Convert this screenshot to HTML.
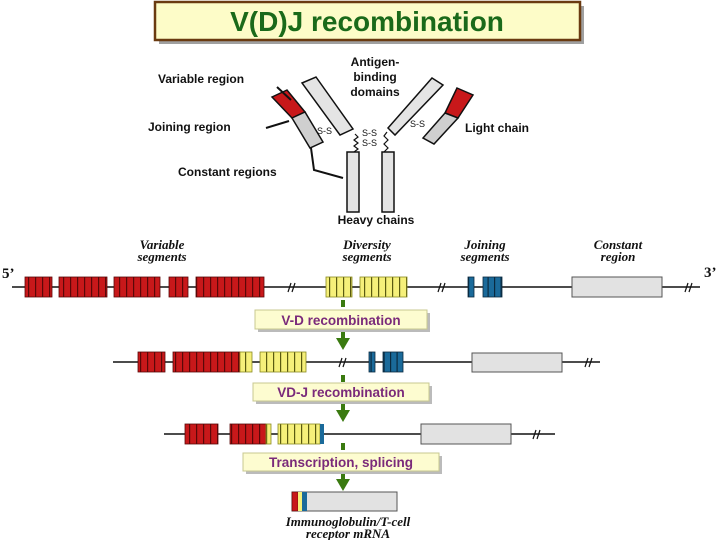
<!DOCTYPE html>
<html><head><meta charset="utf-8"><style>
html,body{margin:0;padding:0;background:#fff;}
svg{display:block;}
.lb{font-family:"Liberation Sans",sans-serif;font-weight:bold;font-size:12px;fill:#111;}
.sg{font-family:"Liberation Serif",serif;font-weight:bold;font-style:italic;font-size:13px;fill:#111;}
.bx{font-family:"Liberation Sans",sans-serif;font-weight:bold;font-size:13.5px;fill:#7a2a7a;}
</style></head><body>
<svg width="720" height="540" viewBox="0 0 720 540" xmlns="http://www.w3.org/2000/svg">
<defs>
<pattern id="red" patternUnits="userSpaceOnUse" width="7" height="40" x="0" y="0">
<rect width="7" height="40" fill="#c8181a"/><rect width="1.2" height="40" fill="#5a0808"/>
</pattern>
<pattern id="yel" patternUnits="userSpaceOnUse" width="7" height="40" x="0" y="0">
<rect width="7" height="40" fill="#f6f07a"/><rect width="1.2" height="40" fill="#5a5a10"/>
</pattern>
<pattern id="blu" patternUnits="userSpaceOnUse" width="6.5" height="40" x="0" y="0">
<rect width="6.5" height="40" fill="#1a6a9a"/><rect width="1.2" height="40" fill="#0a2a40"/>
</pattern>
</defs>

<!-- Title -->
<rect x="159" y="6" width="425" height="38" fill="#a0a0a0"/>
<rect x="155" y="2" width="425" height="38" fill="#fdfcc8" stroke="#6a3a10" stroke-width="2.5"/>
<text x="367" y="31" text-anchor="middle" font-family="Liberation Sans,sans-serif" font-weight="bold" font-size="28" fill="#1a6a1a">V(D)J recombination</text>

<!-- Antibody -->
<g stroke="#111" stroke-width="1.5">
<polygon points="302,83 316,77 353,129 340,135" fill="#e4e4e4"/>
<polygon points="432,78 443,85 395,135 388,128" fill="#e4e4e4"/>
<polygon points="272,97 287,90 305,112 292,118" fill="#c8181a"/>
<polygon points="292,118 305,112 323,142 310,148" fill="#cfcfcf"/>
<polygon points="457,88 473,95 458,118 445,113" fill="#c8181a"/>
<polygon points="445,113 458,118 434,144 423,138" fill="#cfcfcf"/>
<rect x="347" y="152" width="12" height="60" fill="#e4e4e4"/>
<rect x="382" y="152" width="12" height="60" fill="#e4e4e4"/>
</g>
<g stroke="#111" stroke-width="1.2" fill="none">
<polyline points="355,134 358,137 354,140 358,143 354,146 358,149 354,152"/>
<polyline points="387,132 384,136 388,140 384,144 388,148 384,152"/>
<line x1="277" y1="87" x2="291" y2="100" stroke-width="2"/>
<line x1="266" y1="128" x2="289" y2="121" stroke-width="2"/>
<polyline points="311,148 314,170 343,178" stroke-width="2"/>
</g>
<g font-family="Liberation Sans,sans-serif" font-size="9" fill="#111">
<text x="317" y="134">S-S</text>
<text x="362" y="136">S-S</text>
<text x="362" y="146">S-S</text>
<text x="410" y="127">S-S</text>
</g>
<text class="lb" x="158" y="83">Variable region</text>
<text class="lb" x="148" y="131">Joining region</text>
<text class="lb" x="178" y="176">Constant regions</text>
<text class="lb" x="375" y="66" text-anchor="middle">Antigen-</text>
<text class="lb" x="375" y="81" text-anchor="middle">binding</text>
<text class="lb" x="375" y="96" text-anchor="middle">domains</text>
<text class="lb" x="465" y="132">Light chain</text>
<text class="lb" x="376" y="224" text-anchor="middle">Heavy chains</text>

<!-- segment labels -->
<text class="sg" x="162" y="249" text-anchor="middle">Variable</text>
<text class="sg" x="162" y="261" text-anchor="middle">segments</text>
<text class="sg" x="367" y="249" text-anchor="middle">Diversity</text>
<text class="sg" x="367" y="261" text-anchor="middle">segments</text>
<text class="sg" x="485" y="249" text-anchor="middle">Joining</text>
<text class="sg" x="485" y="261" text-anchor="middle">segments</text>
<text class="sg" x="618" y="249" text-anchor="middle">Constant</text>
<text class="sg" x="618" y="261" text-anchor="middle">region</text>
<text x="2" y="278" font-family="Liberation Serif,serif" font-weight="bold" font-size="15" fill="#111">5’</text>
<text x="704" y="277" font-family="Liberation Serif,serif" font-weight="bold" font-size="15" fill="#111">3’</text>

<!-- Row 1 -->
<line x1="12" y1="287" x2="700" y2="287" stroke="#111" stroke-width="1.5"/>
<g stroke="#5a0808" stroke-width="0.8" fill="url(#red)">
<rect x="25" y="277" width="27" height="20"/><rect x="59" y="277" width="48" height="20"/>
<rect x="114" y="277" width="46" height="20"/><rect x="169" y="277" width="19" height="20"/>
<rect x="196" y="277" width="68" height="20"/>
</g>
<g stroke="#8a8a20" stroke-width="0.8" fill="url(#yel)">
<rect x="326" y="277" width="26" height="20"/><rect x="360" y="277" width="47" height="20"/>
</g>
<g stroke="#0a2a40" stroke-width="0.8" fill="url(#blu)">
<rect x="468" y="277" width="6" height="20"/><rect x="483" y="277" width="19" height="20"/>
</g>
<rect x="572" y="277" width="90" height="20" fill="#e2e2e2" stroke="#555"/>
<g stroke="#111" stroke-width="1.2" fill="none">
<path d="M288,292 l3,-9 M292,292 l3,-9"/><path d="M438,292 l3,-9 M442,292 l3,-9"/><path d="M685,292 l3,-9 M689,292 l3,-9"/>
</g>

<!-- Arrows -->
<g fill="#3a7a10">
<rect x="341" y="300" width="4" height="7"/>
<rect x="341" y="332" width="4" height="6"/><polygon points="336,338 350,338 343,350"/>
<rect x="341" y="375" width="4" height="7"/>
<rect x="341" y="404" width="4" height="6"/><polygon points="336,410 350,410 343,422"/>
<rect x="341" y="443" width="4" height="7"/>
<rect x="341" y="474" width="4" height="6"/><polygon points="336,479 350,479 343,491"/>
</g>

<!-- Boxes -->
<rect x="258" y="313" width="172" height="19" fill="#bbb"/>
<rect x="255" y="310" width="172" height="19" fill="#fdfcd0" stroke="#c8c890"/>
<text class="bx" x="341" y="325" text-anchor="middle">V-D recombination</text>
<rect x="256" y="386" width="176" height="18" fill="#bbb"/>
<rect x="253" y="383" width="176" height="18" fill="#fdfcd0" stroke="#c8c890"/>
<text class="bx" x="341" y="397" text-anchor="middle">VD-J recombination</text>
<rect x="246" y="456" width="196" height="18" fill="#bbb"/>
<rect x="243" y="453" width="196" height="18" fill="#fdfcd0" stroke="#c8c890"/>
<text class="bx" x="341" y="467" text-anchor="middle">Transcription, splicing</text>

<!-- Row 2 -->
<line x1="113" y1="362" x2="600" y2="362" stroke="#111" stroke-width="1.5"/>
<g stroke="#5a0808" stroke-width="0.8" fill="url(#red)">
<rect x="138" y="352" width="27" height="20"/><rect x="173" y="352" width="67" height="20"/>
</g>
<g stroke="#8a8a20" stroke-width="0.8" fill="url(#yel)">
<rect x="240" y="352" width="12" height="20"/><rect x="260" y="352" width="46" height="20"/>
</g>
<g stroke="#0a2a40" stroke-width="0.8" fill="url(#blu)">
<rect x="369" y="352" width="6" height="20"/><rect x="383" y="352" width="20" height="20"/>
</g>
<rect x="472" y="353" width="90" height="19" fill="#e2e2e2" stroke="#555"/>
<path d="M339,367 l3,-9 M343,367 l3,-9 M585,367 l3,-9 M589,367 l3,-9" stroke="#111" stroke-width="1.2"/>

<!-- Row 3 -->
<line x1="164" y1="434" x2="555" y2="434" stroke="#111" stroke-width="1.5"/>
<g stroke="#5a0808" stroke-width="0.8" fill="url(#red)">
<rect x="185" y="424" width="33" height="20"/><rect x="230" y="424" width="36" height="20"/>
</g>
<g stroke="#8a8a20" stroke-width="0.8" fill="url(#yel)">
<rect x="266" y="424" width="5" height="20"/><rect x="278" y="424" width="42" height="20"/>
</g>
<rect x="320" y="424" width="4" height="20" fill="#1a6a9a"/>
<rect x="421" y="424" width="90" height="20" fill="#e2e2e2" stroke="#555"/>
<path d="M533,439 l3,-9 M537,439 l3,-9" stroke="#111" stroke-width="1.2"/>

<!-- mRNA -->
<rect x="292" y="492" width="105" height="19" fill="#e2e2e2" stroke="#555"/>
<rect x="292" y="492" width="6" height="19" fill="#c8181a" stroke="#5a0808" stroke-width="0.6"/>
<rect x="298" y="492" width="4" height="19" fill="#f6f07a"/>
<rect x="302" y="492" width="5" height="19" fill="#1a6a9a"/>
<text class="sg" x="348" y="526" text-anchor="middle">Immunoglobulin/T-cell</text>
<text class="sg" x="348" y="538" text-anchor="middle">receptor mRNA</text>
</svg>
</body></html>
